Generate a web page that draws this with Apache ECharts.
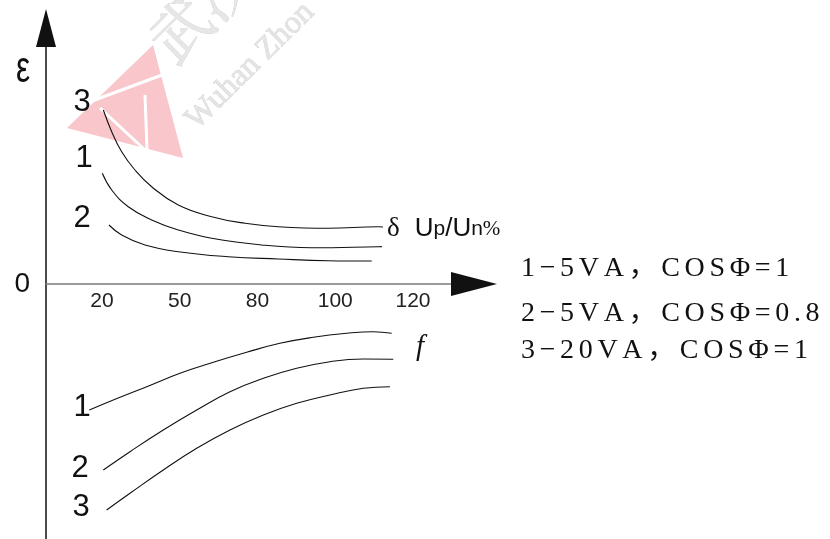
<!DOCTYPE html>
<html>
<head>
<meta charset="utf-8">
<script src="https://cdn.jsdelivr.net/npm/echarts@6/dist/echarts.min.js"></script>
<style>html,body{margin:0;padding:0;background:#fff;}#c{width:830px;height:539px;}</style>
</head>
<body>
<div id="c"></div>
<script>
// schematic x axis: tick index positions and their printed labels (Up/Un %)
const xTickPos = [0, 1, 2, 3, 4];
const xTickLabels = ['20', '50', '80', '100', '120'];
const yZeroLabel = ['0'];

// upper group: ratio error δ curves (x in tick-index units, y in ε units)
const delta3 = [[0.017,17.4],[0.125,15.23],[0.253,13.23],[0.424,11.4],[0.639,9.73],[0.981,7.9],[1.411,6.73],[1.839,6.07],[2.268,5.73],[2.911,5.57],[3.554,5.73],[3.614,5.7]];
const delta1 = [[0.004,11.07],[0.125,9.4],[0.338,7.73],[0.639,6.4],[0.981,5.4],[1.411,4.57],[2.054,3.9],[2.697,3.63],[3.554,3.73],[3.6,3.74]];
const delta2 = [[0.09,5.9],[0.253,4.9],[0.553,3.9],[0.981,3.23],[1.624,2.73],[2.268,2.5],[2.911,2.33],[3.469,2.3]];
// lower group: phase error f curves
const freq1 = [[-0.163,-12.6],[0.145,-11.6],[0.575,-10.27],[1.003,-8.93],[1.432,-7.83],[1.861,-6.83],[2.289,-5.93],[2.718,-5.33],[3.147,-4.93],[3.489,-4.77],[3.726,-4.93]];
const freq2 = [[0.017,-18.6],[0.36,-16.77],[0.788,-14.6],[1.218,-12.6],[1.646,-10.77],[2.075,-9.43],[2.504,-8.43],[2.932,-7.77],[3.361,-7.5],[3.747,-7.53]];
const freq3 = [[0.06,-22.6],[0.36,-20.93],[0.788,-18.6],[1.218,-16.43],[1.646,-14.6],[2.075,-13.1],[2.504,-11.93],[2.932,-11.1],[3.361,-10.43],[3.704,-10.27]];

const legendLines = ['1−5VA，COSΦ=1', '2−5VA，COSΦ=0.8', '3−20VA，COSΦ=1'];

const xMin = -0.7203, xMax = 4.785, yMin = -25.5, yMax = 25.6;
const gridTop = 28, gridBottom = 0, H = 539;
const gridH = H - gridTop - gridBottom;
const xAxisOffset = -gridH * (0 - yMin) / (yMax - yMin);

const chart = echarts.init(document.getElementById('c'), null, {renderer: 'canvas'});

function curve(data) {
  return {type: 'line', data: data, smooth: 0.45, showSymbol: false, silent: true,
    lineStyle: {color: '#111', width: 1.1}, z: 5};
}

const option = {
  animation: false,
  backgroundColor: '#fff',
  grid: {left: 46, right: 356, top: gridTop, bottom: gridBottom, containLabel: false, outerBoundsMode: 'none'},
  xAxis: {
    type: 'value', min: xMin, max: xMax, position: 'bottom', offset: xAxisOffset,
    axisLine: {show: true, onZero: false, lineStyle: {color: '#7a7a7a', width: 1.6}},
    axisTick: {show: false}, splitLine: {show: false},
    axisLabel: {customValues: xTickPos, formatter: v => xTickLabels[Math.round(v)] || '',
      fontSize: 21, fontFamily: 'Liberation Sans', color: '#222', margin: 7}
  },
  yAxis: {
    type: 'value', min: yMin, max: yMax,
    axisLine: {show: true, onZero: false, symbol: ['none', 'triangle'], symbolSize: [20, 38],
      lineStyle: {color: '#111', width: 1.5}},
    axisTick: {show: false}, splitLine: {show: false},
    axisLabel: {customValues: [0], formatter: () => yZeroLabel[0],
      fontSize: 28, fontFamily: 'Liberation Sans', color: '#111', margin: 16}
  },
  series: [curve(delta3), curve(delta1), curve(delta2), curve(freq1), curve(freq2), curve(freq3)]
};
chart.setOption(option);

function txt(x, y, text, font, extra) {
  return {type: 'text', x: x, y: y, z: 10, silent: true,
    style: Object.assign({text: text, font: font, fill: '#111',
      align: 'center', verticalAlign: 'middle', textAlign: 'center', textVerticalAlign: 'middle'}, extra || {})};
}
function spaced(s) { return Array.from(s).join('\u2006'); }

const tip = chart.convertToPixel({gridIndex: 0}, [xMax, 0]);
const g = [];
// watermark
g.push({type: 'polygon', z: 0, silent: true, shape: {points: [[67,128],[153,45],[183,158]]}, style: {fill: '#f9c6cb'}});
g.push({type: 'polyline', z: 1, silent: true, shape: {points: [[92,101],[162,75]]}, style: {stroke: '#fff', lineWidth: 3}});
g.push({type: 'polyline', z: 1, silent: true, shape: {points: [[145,95],[147,150]]}, style: {stroke: '#fff', lineWidth: 3}});
g.push({type: 'polyline', z: 1, silent: true, shape: {points: [[100,108],[145,150]]}, style: {stroke: '#fff', lineWidth: 3}});
g.push({type: 'text', x: 202, y: 136, rotation: 0.78, z: 0, silent: true,
  style: {text: 'Wuhan Zhon', font: '32px "Liberation Serif"', fill: '#e4e4e4', stroke: '#cdcdcd', lineWidth: 0.6, align: 'left', verticalAlign: 'bottom'}});
g.push({type: 'text', x: 180, y: 72, rotation: 0.78, z: 0, silent: true,
  style: {text: '武汉', font: '60px "Noto Serif CJK SC", "Noto Sans CJK SC"', fill: '#e6e6e6', stroke: '#cdcdcd', lineWidth: 0.6, align: 'left', verticalAlign: 'bottom'}});
// x arrow
g.push({type: 'polygon', z: 6, silent: true,
  shape: {points: [[tip[0] - 23, tip[1] - 12], [tip[0] + 23, tip[1]], [tip[0] - 23, tip[1] + 12]]},
  style: {fill: '#111'}});
// axis name ε
g.push(Object.assign(txt(18, 70, 'ε', '44px "Liberation Sans"'), {scaleX: 0.72, originX: 18, originY: 70}));
// curve numbers
const numFont = '31px "Liberation Sans"';
g.push(txt(82, 102, '3', numFont));
g.push(txt(84, 158, '1', numFont));
g.push(txt(82, 218, '2', numFont));
g.push(txt(82, 407, '1', numFont));
g.push(txt(80, 468, '2', numFont));
g.push(txt(81, 507, '3', numFont));
// δ and unit label
g.push({type: 'text', x: 387, y: 229, z: 10, silent: true,
  style: {text: '{d|δ}{sp| }{u|U}{s|p}{u|/U}{s|n}{pc|%}', align: 'left', verticalAlign: 'middle', fill: '#111',
    rich: {d: {fontFamily: 'Liberation Serif', fontSize: 27, fill: '#111'},
      sp: {fontSize: 26, width: 15},
      u: {fontFamily: 'Liberation Sans', fontSize: 26, fill: '#111'},
      s: {fontFamily: 'Liberation Sans', fontSize: 21, fill: '#111'},
      pc: {fontFamily: 'Liberation Serif', fontSize: 21, fill: '#111'}}}});
g.push(txt(420, 347, 'f', 'italic 29px "Liberation Serif"'));
// description lines
const ly = [269, 314, 351];
legendLines.forEach((s, i) => {
  g.push(txt(521, ly[i], spaced(s), '28px "Liberation Serif", "Noto Sans CJK SC"', {align: 'left', textAlign: 'left'}));
});
chart.setOption({graphic: {elements: g}});
</script>
</body>
</html>
